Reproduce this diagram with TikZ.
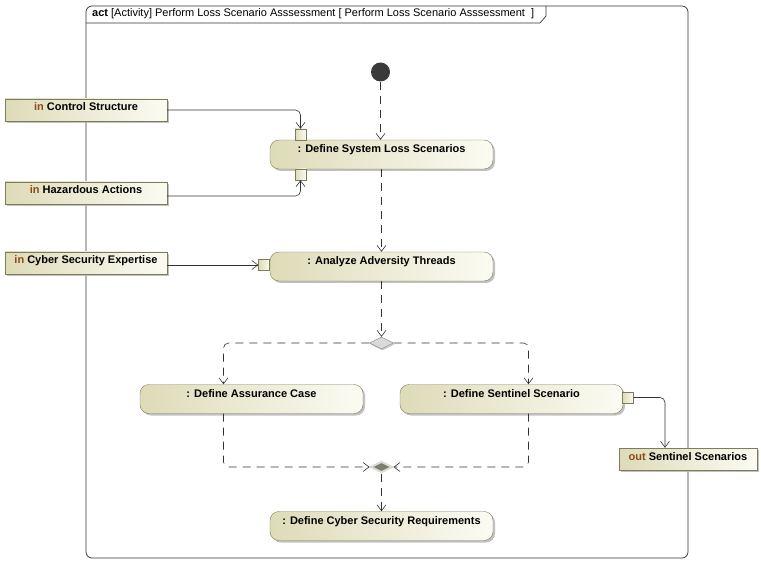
\documentclass[tikz,border=0pt]{standalone}
\usepackage{fontspec}
\setmainfont{Liberation Sans}
\usetikzlibrary{shapes.geometric,shadows,arrows.meta,positioning}
\definecolor{actedge}{HTML}{7D7D5C}
\definecolor{actdark}{HTML}{DEDBB8}
\definecolor{actlight}{HTML}{FBFBF3}
\definecolor{kwbrown}{HTML}{8B4A1C}
\definecolor{flowgrey}{HTML}{333333}
\definecolor{startgrey}{HTML}{3A3A3A}
\definecolor{decfill}{HTML}{DADADA}
\definecolor{decedge}{HTML}{8A8A8A}
\definecolor{mergefill}{HTML}{7E7E6C}
\newcommand{\boxfont}{\fontsize{11}{13}\selectfont\bfseries}
\newcommand{\kw}[1]{{\color{kwbrown}#1}}
\tikzstyle{action} = [draw=actedge, left color=actdark, right color=actlight, text centered, minimum width=223pt, inner sep=0pt, text height=13pt, text depth=16pt, rounded corners=9pt, drop shadow={shadow xshift=2pt,shadow yshift=-2pt,fill=black!30,opacity=.8}, font=\boxfont]
\tikzstyle{param} = [draw=actedge, left color=actdark, right color=actlight, text centered, minimum width=162pt, inner sep=0pt, text height=12pt, text depth=10pt, drop shadow={shadow xshift=2pt,shadow yshift=-2pt,fill=black!30,opacity=.8}, font=\boxfont]
\tikzstyle{outparam} = [param, minimum width=138pt]
\tikzstyle{pinbox} = [draw=actedge, left color=actdark, right color=actlight, minimum size=11pt, inner sep=0pt]
\tikzstyle{startnode} = [circle, fill=startgrey, minimum size=19pt, inner sep=0pt]
\tikzstyle{decision} = [diamond, aspect=2, draw=decedge, fill=decfill, minimum width=24pt, minimum height=12pt, inner sep=0pt, drop shadow={shadow xshift=1pt,shadow yshift=-1.5pt,fill=black!25,opacity=.8}]
\tikzstyle{merge} = [diamond, aspect=2, draw=decfill, line width=2pt, fill=mergefill, minimum width=22pt, minimum height=11pt, inner sep=0pt]
\tikzstyle{objflow} = [draw, color=flowgrey, line width=0.6pt, rounded corners=5pt, -{Straight Barb[length=6pt,width=9pt]}]
\tikzstyle{ctrlflow} = [objflow, dash pattern=on 8pt off 6pt]
\tikzstyle{frameline} = [draw, color=flowgrey, line width=0.7pt]
\newcommand{\actnode}[2]{node (a#1) [action] {#2}}
\newcommand{\paramnode}[2]{node (i#1) [param] {#2}}
\newcommand{\pinnode}[1]{node (p#1) [pinbox] {}}
\begin{document}
\begin{tikzpicture}[x=1pt,y=-1pt]
\useasboundingbox (0,0) rectangle (761,564);
% frame and header tab
\draw[frameline, rounded corners=6pt] (86,6) rectangle (688,558);
\draw[frameline] (86,23) -- (540,23) -- (546,16) -- (546,6);
\node[anchor=base west, inner sep=0pt, font=\fontsize{11}{13}\selectfont] (title) at (92,17) {\textbf{act} [Activity] Perform Loss Scenario Asssessment [ Perform Loss Scenario Asssessment\ \ ]};

\path (381.5,154.5) \actnode{1}{: Define System Loss Scenarios};
\path (a1)+(-1,-82.5) node (s1) [startnode] {};
\path (a1)+(-81,-20) \pinnode{1};
\path (a1)+(-81,20) \pinnode{2};
\path (a1)+(-295.5,-44.5) \paramnode{1}{\kw{in} Control Structure};
\path (i1)+(0,83) \paramnode{2}{\kw{in} Hazardous Actions};
\path (i2)+(0,70) \paramnode{3}{\kw{in} Cyber Security Expertise};

\path (a1)+(0,112) \actnode{2}{: Analyze Adversity Threads};
\path (a2)+(-117.5,-1.5) \pinnode{3};

\path (a2)+(0,76.5) node (d1) [decision] {};
\path (d1)+(-130,56) \actnode{3}{: Define Assurance Case};
\path (d1)+(130,56) \actnode{4}{: Define Sentinel Scenario};
\path (a4)+(116.5,-1.5) \pinnode{4};
\path (a4)+(176.5,60) node (o1) [outparam] {\kw{out} Sentinel Scenarios};

\path (d1)+(0,124) node (m1) [merge] {};
\path (m1)+(0,59) \actnode{5}{: Define Cyber Security Requirements};

% control flows
\path [ctrlflow] (s1.south) -- (s1.south |- a1.north);
\path [ctrlflow] (a1.south) -- (a2.north);
\path [ctrlflow] (a2.south) -- (d1.north);
\path [ctrlflow] (d1.west) -| ([xshift=-28pt]a3.north);
\path [ctrlflow] (d1.east) -| ([xshift=17pt]a4.north);
\path [ctrlflow] ([xshift=-28pt]a3.south) |- (m1.west);
\path [ctrlflow] ([xshift=17pt]a4.south) |- (m1.east);
\path [ctrlflow] (m1.south) -- (a5.north);

% object flows
\path [objflow] (i1.east) -| (p1.north);
\path [objflow] ([yshift=-3pt]i2.east) -| (p2.south);
\path [objflow] (i3.east |- p3.west) -- (p3.west);
\path [objflow] (p4.east) -| ([xshift=-23pt]o1.north);
\end{tikzpicture}
\end{document}
